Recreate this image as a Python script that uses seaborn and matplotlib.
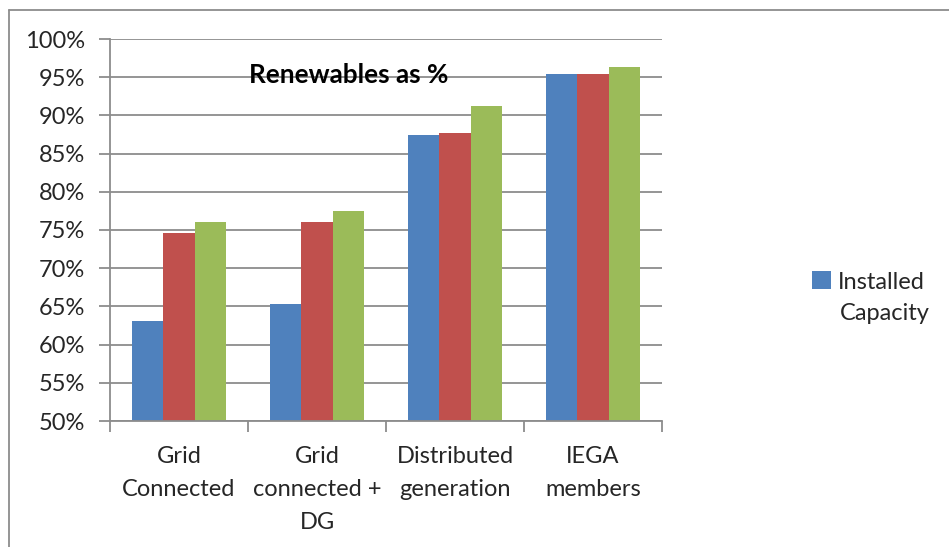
import matplotlib
matplotlib.use("Agg")
import matplotlib.pyplot as plt
import seaborn as sns
import pandas as pd
import numpy as np
from matplotlib.lines import Line2D
from matplotlib.patches import Patch

categories = ["Grid\nConnected", "Grid\nconnected +\nDG", "Distributed\ngeneration", "IEGA\nmembers"]
series = ["Installed Capacity", "Series 2", "Series 3"]
installed = [63.1, 65.3, 87.4, 95.4]
series2 = [74.6, 76.0, 87.7, 95.4]
series3 = [76.1, 77.5, 91.2, 96.4]
yticks = [50, 55, 60, 65, 70, 75, 80, 85, 90, 95, 100]
colors = ["#4F81BD", "#C0504D", "#9BBB59"]

rows = []
for s, vals in zip(series, [installed, series2, series3]):
    for c, v in zip(categories, vals):
        rows.append({"category": c, "series": s, "value": v})
df = pd.DataFrame(rows)

sns.set_style("white")
plt.rcParams['font.family'] = ['Lato', 'DejaVu Sans']

fig = plt.figure(figsize=(9.49, 5.47), dpi=100)
ax = fig.add_axes([110/949, 1-421/547, 552/949, 382/547])

sns.barplot(data=df, x="category", y="value", hue="series", palette=colors,
            width=0.674, ax=ax, legend=False, linewidth=0, saturation=1)

ax.set_ylim(50, 100)
ax.set_xlim(-0.5, 3.5)
ax.set_yticks(yticks)
ax.set_yticklabels([f"{t}%" for t in yticks])
ax.yaxis.grid(True, color="#8C8C8C", linewidth=1.3)
ax.set_axisbelow(True)
ax.set_xlabel("")
ax.set_ylabel("")

for side in ["top", "right"]:
    ax.spines[side].set_visible(False)
for side in ["left", "bottom"]:
    ax.spines[side].set_color("#8C8C8C")
    ax.spines[side].set_linewidth(1.3)

FS = 17
ax.tick_params(axis="y", which="major", length=8, width=1.3, color="#8C8C8C",
               labelsize=FS, pad=10, left=True)
ax.tick_params(axis="x", which="major", length=0, labelsize=FS, pad=18)
ax.set_xticks(np.arange(-0.5, 4.0, 1.0), minor=True)
ax.tick_params(axis="x", which="minor", length=8, width=1.3, color="#8C8C8C", bottom=True)
for lab in ax.get_xticklabels():
    lab.set_linespacing(1.7)

ax.text(0.433, 0.905, "Renewables as %", transform=ax.transAxes, ha="center", va="center",
        fontsize=18.8, fontweight="bold", color="black")

handle = Patch(facecolor=colors[0], edgecolor="none")
leg = fig.legend([handle], ["Installed"], loc="center left",
                 bbox_to_anchor=(812/949, 1-282/547), frameon=False, fontsize=FS,
                 handlelength=0.8, handleheight=0.8, handletextpad=0.3, borderaxespad=0,
                 borderpad=0)
fig.text(840/949, 1-313/547, "Capacity", ha="left", va="center", fontsize=FS)

fig.add_artist(Line2D([9/949, 9/949], [0, 1-10/547], transform=fig.transFigure,
                      color="#8C8C8C", linewidth=1.3))
fig.add_artist(Line2D([9/949, 1], [1-10/547, 1-10/547], transform=fig.transFigure,
                      color="#8C8C8C", linewidth=1.3))

fig.savefig("out.png", dpi=100)
